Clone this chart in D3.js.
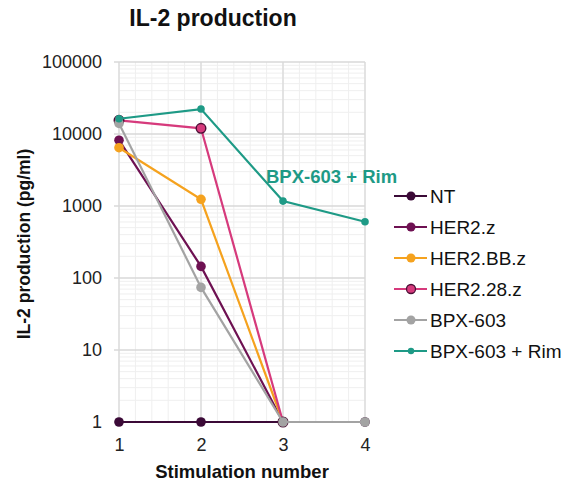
<!DOCTYPE html>
<html>
<head>
<meta charset="utf-8">
<script src="https://cdn.jsdelivr.net/npm/d3@7"></script>
<style>
  body { margin: 0; background: #fff; }
  text { font-family: "Liberation Sans", Arial, sans-serif; }
</style>
</head>
<body>
<div id="chart"></div>
<script>
// chart data
const stimulations = [1, 2, 3, 4];
const seriesNames = ["NT", "HER2.z", "HER2.BB.z", "HER2.28.z", "BPX-603", "BPX-603 + Rim"];
const ntValues = [1, 1, 1, 1];
const her2zValues = [8200, 145, 1];
const her2bbzValues = [6450, 1240, 1];
const her228zValues = [15500, 12000, 1];
const bpxValues = [14000, 74, 1, 1];
const bpxRimValues = [16300, 22200, 1170, 605];
const yTicks = [1, 10, 100, 1000, 10000, 100000];

const colors = ["#3b0a37", "#6e1152", "#f5a21e", "#d63a7c", "#a3a3a3", "#1e9a86"];
const series = [ntValues, her2zValues, her2bbzValues, her228zValues, bpxValues, bpxRimValues]
    .map((vals, i) => ({ name: seriesNames[i], color: colors[i], values: vals }));

const width = 581, height = 490;
const margin = { left: 119, right: 216, top: 62, bottom: 68 };

const svg = d3.select("#chart")
    .append("svg")
    .attr("width", width)
    .attr("height", height);

const x = d3.scaleLinear()
    .domain([1, 4])
    .range([margin.left, width - margin.right]);

const y = d3.scaleLog()
    .domain([1, 100000])
    .range([height - margin.bottom, margin.top]);

// minor grid
const minorX = d3.range(1, 4.001, 0.2);
svg.append("g")
    .selectAll("line")
    .data(minorX)
    .enter()
    .append("line")
    .attr("x1", d => x(d)).attr("x2", d => x(d))
    .attr("y1", y(1)).attr("y2", y(100000))
    .attr("stroke", "#efefef")
    .attr("stroke-width", 1);

const minorY = [];
for (let p = 1; p < 100000; p *= 10) {
    for (let k = 2; k <= 9; k++) minorY.push(p * k);
}
svg.append("g")
    .selectAll("line")
    .data(minorY)
    .enter()
    .append("line")
    .attr("x1", x(1)).attr("x2", x(4))
    .attr("y1", d => y(d)).attr("y2", d => y(d))
    .attr("stroke", "#efefef")
    .attr("stroke-width", 1);

// major grid
svg.append("g")
    .selectAll("line")
    .data(stimulations)
    .enter()
    .append("line")
    .attr("x1", d => x(d)).attr("x2", d => x(d))
    .attr("y1", y(1)).attr("y2", y(100000))
    .attr("stroke", "#d9d9d9")
    .attr("stroke-width", 1.3);

svg.append("g")
    .selectAll("line")
    .data(yTicks)
    .enter()
    .append("line")
    .attr("x1", x(1) - 5).attr("x2", x(4))
    .attr("y1", d => y(d)).attr("y2", d => y(d))
    .attr("stroke", "#d9d9d9")
    .attr("stroke-width", 1.3);

// axes
const yAxis = svg.append("g")
    .attr("transform", `translate(${x(1)},0)`)
    .call(d3.axisLeft(y).tickValues(yTicks).tickFormat(d3.format("d")).tickSize(0).tickPadding(17));
yAxis.select(".domain").remove();
yAxis.selectAll("text")
    .attr("font-size", 18)
    .attr("fill", "#222")
    .attr("font-family", "Liberation Sans, Arial, sans-serif");

const xAxis = svg.append("g")
    .attr("transform", `translate(0,${y(1)})`)
    .call(d3.axisBottom(x).tickValues(stimulations).tickFormat(d3.format("d")).tickSize(0).tickPadding(16));
xAxis.select(".domain").remove();
xAxis.selectAll("text")
    .attr("font-size", 18)
    .attr("fill", "#222")
    .attr("font-family", "Liberation Sans, Arial, sans-serif");

// lines + points
const line = d3.line()
    .x((d, i) => x(stimulations[i]))
    .y(d => y(d));

series.forEach((s, si) => {
    svg.append("path")
        .datum(s.values)
        .attr("fill", "none")
        .attr("stroke", s.color)
        .attr("stroke-width", 2.2)
        .attr("d", line);

    svg.append("g")
        .selectAll("circle")
        .data(s.values)
        .enter()
        .append("circle")
        .attr("cx", (d, i) => x(stimulations[i]))
        .attr("cy", d => y(d))
        .attr("r", si === 5 ? 3.8 : 4.8)
        .attr("fill", s.color)
        .attr("stroke", si === 3 ? "#4a0f35" : s.color)
        .attr("stroke-width", si === 3 ? 1.4 : 0);
});

// annotation
svg.append("text")
    .attr("x", 266)
    .attr("y", 183)
    .attr("font-size", 18.5)
    .attr("font-weight", "bold")
    .attr("fill", colors[5])
    .text("BPX-603 + Rim");

// title + axis labels
svg.append("text")
    .attr("x", 213)
    .attr("y", 26)
    .attr("text-anchor", "middle")
    .attr("font-size", 23)
    .attr("font-weight", "bold")
    .attr("fill", "#111")
    .text("IL-2 production");

svg.append("text")
    .attr("x", 242)
    .attr("y", 478)
    .attr("text-anchor", "middle")
    .attr("font-size", 18.5)
    .attr("font-weight", "bold")
    .attr("fill", "#111")
    .text("Stimulation number");

svg.append("text")
    .attr("transform", `translate(30,244) rotate(-90)`)
    .attr("text-anchor", "middle")
    .attr("font-size", 17.5)
    .attr("font-weight", "bold")
    .attr("fill", "#111")
    .text("IL-2 production (pg/ml)");

// legend
const legend = svg.append("g")
    .attr("transform", "translate(394,196)");

const rows = legend.selectAll("g")
    .data(series)
    .enter()
    .append("g")
    .attr("transform", (d, i) => `translate(0,${i * 31})`);

rows.append("line")
    .attr("x1", 0).attr("x2", 33)
    .attr("stroke", d => d.color)
    .attr("stroke-width", 2.2);

rows.append("circle")
    .attr("cx", 17)
    .attr("r", (d, i) => i === 5 ? 3.2 : 4.5)
    .attr("fill", d => d.color)
    .attr("stroke", (d, i) => i === 3 ? "#4a0f35" : d.color)
    .attr("stroke-width", (d, i) => i === 3 ? 1.3 : 0);

rows.append("text")
    .attr("x", 36)
    .attr("y", 7)
    .attr("font-size", 19)
    .attr("fill", "#111")
    .text(d => d.name);
</script>
</body>
</html>
